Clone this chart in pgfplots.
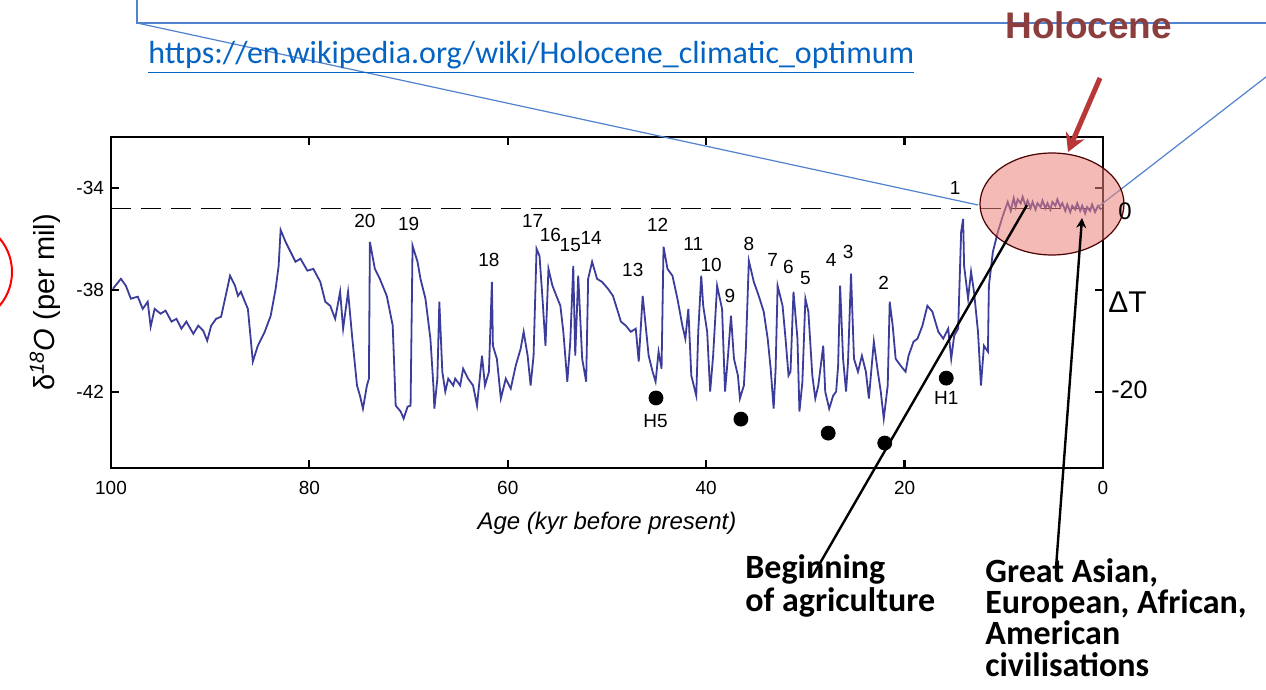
\documentclass[border=0pt]{standalone}
\usepackage{pgfplots}
\pgfplotsset{compat=1.18}
\usepackage{fontspec}
\setmainfont{Liberation Sans}
\newfontfamily\calibri{Carlito}
\usetikzlibrary{arrows.meta}

\definecolor{curve}{RGB}{60,60,155}
\definecolor{callout}{RGB}{80,130,205}
\definecolor{linkblue}{RGB}{5,99,193}
\definecolor{holored}{RGB}{140,62,62}
\definecolor{arrowred}{RGB}{185,55,55}
\definecolor{ellfill}{RGB}{235,130,120}

\pgfplotstableread{
age d18O
99.8 -37.96
99.0 -37.57
98.5 -37.84
98.0 -38.35
97.3 -38.27
96.8 -38.75
96.3 -38.47
96.0 -39.45
95.6 -38.75
95.0 -38.94
94.5 -38.82
93.9 -39.25
93.4 -39.14
92.9 -39.53
92.4 -39.25
91.7 -39.73
91.2 -39.41
90.7 -39.61
90.3 -40.00
89.9 -39.41
89.4 -39.14
88.9 -39.06
88.5 -38.35
88.0 -37.45
87.5 -37.84
87.2 -38.24
86.9 -38.08
86.5 -38.47
86.2 -38.75
85.7 -40.82
85.2 -40.20
84.5 -39.65
83.9 -39.02
83.4 -37.96
83.1 -37.06
82.9 -35.65
82.4 -36.12
81.9 -36.51
81.4 -36.90
80.9 -36.78
80.2 -37.25
79.6 -37.18
78.9 -37.69
78.4 -38.47
77.9 -38.63
77.4 -39.14
76.9 -38.08
76.6 -39.53
76.1 -38.08
75.7 -39.80
75.2 -41.76
74.9 -42.16
74.6 -42.67
74.2 -41.76
74.0 -41.49
73.9 -36.12
73.4 -37.18
72.9 -37.57
72.2 -38.24
71.6 -39.41
71.3 -42.55
70.8 -42.78
70.5 -43.06
70.1 -42.59
69.8 -42.55
69.6 -36.27
69.1 -36.90
68.8 -37.57
68.3 -38.35
67.8 -39.92
67.5 -41.76
67.4 -42.67
67.1 -41.49
66.9 -38.47
66.6 -41.22
66.3 -42.00
66.0 -41.49
65.5 -41.76
65.3 -41.49
64.8 -41.76
64.5 -41.10
64.0 -41.49
63.5 -41.76
63.1 -42.55
62.6 -40.59
62.3 -41.76
61.9 -41.22
61.6 -37.69
61.5 -40.20
61.1 -40.71
60.7 -42.27
60.2 -41.49
59.7 -41.88
59.2 -40.98
58.7 -40.31
58.4 -39.65
58.0 -40.59
57.7 -41.76
57.4 -40.59
57.1 -36.39
56.8 -36.67
56.5 -38.35
56.2 -40.20
55.9 -37.18
55.5 -37.84
55.1 -38.24
54.7 -38.63
54.4 -39.65
54.0 -41.61
53.7 -40.04
53.4 -37.06
53.2 -40.59
52.9 -37.45
52.5 -40.71
52.1 -41.61
51.9 -37.57
51.5 -36.90
51.0 -37.57
50.5 -37.69
49.9 -37.96
49.4 -38.24
48.9 -38.86
48.6 -39.25
48.1 -39.41
47.6 -39.65
47.1 -39.53
46.8 -40.82
46.4 -38.24
46.1 -39.41
45.8 -40.59
45.4 -41.22
45.1 -41.61
44.8 -40.43
44.5 -41.10
44.3 -36.31
43.9 -37.18
43.4 -37.45
42.9 -38.35
42.4 -39.41
42.1 -39.92
41.8 -38.75
41.5 -41.37
41.0 -42.16
40.8 -39.65
40.5 -37.45
40.3 -38.63
39.9 -39.65
39.6 -42.00
39.3 -40.59
38.9 -37.84
38.4 -38.75
38.1 -42.00
37.8 -40.59
37.5 -39.02
37.2 -40.71
36.8 -41.37
36.6 -42.27
36.2 -41.76
36.0 -40.31
35.7 -36.86
35.2 -37.69
34.7 -38.24
34.2 -38.86
33.8 -39.92
33.5 -41.10
33.2 -42.67
33.0 -41.10
32.8 -37.84
32.3 -38.63
32.0 -39.92
31.7 -41.37
31.5 -41.22
31.2 -38.08
30.8 -39.92
30.6 -42.78
30.3 -41.61
30.0 -38.35
29.7 -38.86
29.3 -41.37
29.0 -42.27
28.7 -41.76
28.2 -40.20
28.0 -42.00
27.6 -42.67
27.2 -42.16
26.9 -42.00
26.7 -40.98
26.5 -37.84
26.2 -40.71
25.9 -42.00
25.7 -40.82
25.4 -37.37
25.1 -40.71
24.7 -41.22
24.3 -40.59
23.9 -41.22
23.6 -42.27
23.1 -40.04
22.7 -41.22
22.4 -42.00
22.1 -43.06
21.7 -41.76
21.5 -38.47
21.2 -39.41
20.9 -40.71
20.4 -40.98
19.9 -41.22
19.6 -40.59
19.1 -40.04
18.7 -39.92
18.2 -39.41
17.7 -38.63
17.2 -38.86
16.6 -39.65
16.1 -39.92
15.6 -39.53
15.3 -40.71
15.0 -39.80
14.6 -39.53
14.3 -35.73
14.1 -35.22
14.0 -37.06
13.6 -38.35
13.3 -37.29
13.0 -38.08
12.6 -39.65
12.3 -41.76
12.0 -40.20
11.6 -40.43
11.5 -37.84
11.1 -36.51
10.6 -35.73
10.1 -35.10
9.6 -34.55
9.3 -34.90
9.0 -34.40
8.8 -34.75
8.6 -34.45
8.3 -34.60
8.1 -34.35
7.8 -34.70
7.6 -34.50
7.3 -34.80
7.1 -34.55
6.8 -34.85
6.6 -34.60
6.3 -34.75
6.1 -34.50
5.8 -34.80
5.6 -34.60
5.3 -34.85
5.1 -34.55
4.8 -34.70
4.6 -34.45
4.3 -34.75
4.1 -34.60
3.8 -34.90
3.6 -34.65
3.3 -34.95
3.1 -34.70
2.8 -34.85
2.6 -34.60
2.3 -34.90
2.1 -34.70
1.8 -35.00
1.6 -34.75
1.3 -34.90
1.1 -34.65
0.8 -34.95
0.5 -34.70
0.2 -34.85
}\gisp

\begin{document}
\begin{tikzpicture}
\begin{axis}[
    at={(0pt,0pt)}, anchor=north west,
    scale only axis, width=496pt, height=165.5pt,
    x dir=reverse, xmin=0, xmax=100, ymin=-45, ymax=-32,
    xtick={0,20,40,60,80,100}, xticklabels={0,20,40,60,80,100},
    ytick={-42,-38,-34}, yticklabels={-42,-38,-34},
    tick align=inside, major tick length=4pt,
    axis line style={line width=1.3pt},
    every tick/.style={black, line width=1.1pt},
    ticklabel style={font=\fontsize{9.5}{11}\selectfont},
    xticklabel style={yshift=-3pt},
    xlabel={\itshape Age (kyr before present)},
    ylabel={δ\textsuperscript{\itshape 18}\textit{O} (per mil)},
    xlabel style={font=\fontsize{12}{14}\selectfont,
        at={(axis description cs:0.5,0)}, anchor=center, yshift=-27.5pt},
    ylabel style={font=\fontsize{14.5}{16}\selectfont,
        at={(axis description cs:-0.0665,0.5)}, anchor=center},
]
\addplot[black, line width=0.75pt, dash pattern=on 10pt off 5pt] coordinates {(100,-34.8) (0,-34.8)};
\addplot[curve, line width=0.9pt] table[x=age, y=d18O] {\gisp};
\addplot[only marks, mark=*, mark size=3.5pt, black] coordinates {
    (45.06,-42.25) (36.5,-43.08) (27.7,-43.63) (22.0,-44.02) (15.8,-41.47)};

\begin{scope}[every node/.style={font=\fontsize{9.5}{11}\selectfont}]
\node at (axis cs:74.4,-35.3) {20};
\node at (axis cs:70.0,-35.42) {19};
\node at (axis cs:61.9,-36.83) {18};
\node at (axis cs:57.5,-35.3) {17};
\node at (axis cs:55.7,-35.85) {16};
\node at (axis cs:53.7,-36.24) {15};
\node at (axis cs:51.6,-35.97) {14};
\node at (axis cs:47.4,-37.22) {13};
\node at (axis cs:44.9,-35.46) {12};
\node at (axis cs:41.3,-36.2) {11};
\node at (axis cs:39.5,-37.03) {10};
\node at (axis cs:37.6,-38.25) {9};
\node at (axis cs:35.7,-36.2) {8};
\node at (axis cs:33.3,-36.83) {7};
\node at (axis cs:31.7,-37.11) {6};
\node at (axis cs:30.0,-37.54) {5};
\node at (axis cs:27.4,-36.83) {4};
\node at (axis cs:25.7,-36.52) {3};
\node at (axis cs:22.1,-37.73) {2};
\node at (axis cs:14.9,-34.0) {1};
\node at (axis cs:45.1,-43.15) {H5};
\node at (axis cs:15.8,-42.25) {H1};
\end{scope}
\end{axis}

% slide annotations, in pixel units of the reference
\begin{scope}[x=0.5pt, y=-0.5pt, shift={(-55.5pt,68.5pt)}]
  % callout box and its pointers
  \draw[callout, line width=0.75pt] (137,-20) -- (137,23) -- (1290,23);
  \draw[callout, line width=0.6pt] (137,23) -- (978,205);
  \draw[callout, line width=0.6pt] (1275,70) -- (1098,207);
  % link
  \node[anchor=base west, inner sep=0pt, text=linkblue,
        font=\calibri\fontsize{16}{18}\selectfont] at (148,64)
       {\underline{https://en.wikipedia.org/wiki/Holocene\_climatic\_optimum}};
  % Holocene label and arrow
  \node[anchor=base west, inner sep=0pt, text=holored,
        font=\bfseries\fontsize{18.5}{20}\selectfont] at (1005,39) {Holocene};
  \draw[arrowred, line width=2.5pt, -{Stealth[length=9pt,width=10pt]}] (1100,78) -- (1068,152);
  % Holocene ellipse
  \fill[ellfill, opacity=0.55] (1052,204) ellipse [x radius=36pt, y radius=25.5pt];
  \draw[black!70!red, line width=0.6pt] (1052,204) ellipse [x radius=36pt, y radius=25.5pt];
  % right-hand temperature scale
  \node[anchor=west, inner sep=0pt, font=\fontsize{12}{13}\selectfont] at (1118,211) {0};
  \node[anchor=west, inner sep=0pt, font=\fontsize{15}{16}\selectfont] at (1108,302) {ΔT};
  \node[anchor=west, inner sep=0pt, font=\fontsize{12.5}{14}\selectfont] at (1111,390) {-20};
  % pointer lines to the text
  \draw[black, line width=1.2pt] (812,577) -- (1027,205);
  \draw[black, line width=1.2pt, -{Stealth[length=5pt,width=5pt]}] (1056,568) -- (1082,218);
  % bold annotations
  \begin{scope}[every node/.style={anchor=base west, inner sep=0pt,
        font=\calibri\bfseries\fontsize{17}{19}\selectfont}]
    \node at (745,579) {Beginning};
    \node at (745,612) {of agriculture};
    \node at (985,583) {Great Asian,};
    \node at (985,614) {European, African,};
    \node at (985,645) {American};
    \node at (985,676) {civilisations};
  \end{scope}
  % partial red circle at the left edge
  \draw[red, line width=1pt] (-40,272) circle [radius=26pt];
  \pgfresetboundingbox
  \path[use as bounding box] (0,0) rectangle (1266,690);
\end{scope}
\end{tikzpicture}
\end{document}
